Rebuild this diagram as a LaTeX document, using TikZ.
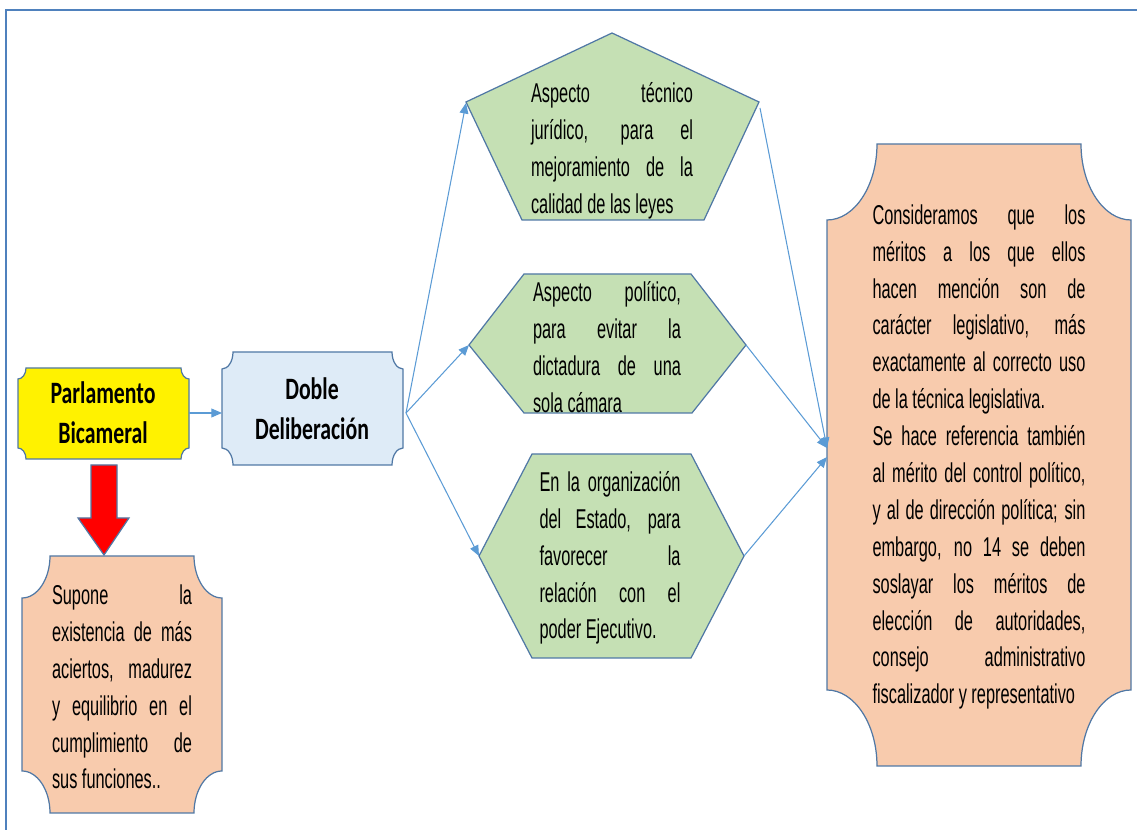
\documentclass[tikz,border=0pt]{standalone}
\usepackage{fontspec}
\usetikzlibrary{arrows.meta}
\newfontfamily\bodyfont{Liberation Sans}[FakeStretch=0.6]
\newfontfamily\headfont{Carlito}[FakeStretch=0.7]
\definecolor{edge}{RGB}{80,120,165}
\definecolor{link}{RGB}{91,155,213}
\definecolor{peach}{RGB}{248,203,173}
\definecolor{leaf}{RGB}{197,224,180}
\definecolor{pale}{RGB}{222,235,247}
\definecolor{frameblue}{RGB}{79,129,189}
\newlength{\jw}
\newcommand{\jl}[1]{\makebox[\jw][s]{#1}}
\newcommand{\plaque}[7]{%
  \draw[#1] (#2,#3+#7)
    .. controls +(0.55*#6,0) and +(0,0.55*#7) .. (#2+#6,#3)
    -- (#4-#6,#3)
    .. controls +(0,0.55*#7) and +(-0.55*#6,0) .. (#4,#3+#7)
    -- (#4,#5-#7)
    .. controls +(-0.55*#6,0) and +(0,-0.55*#7) .. (#4-#6,#5)
    -- (#2+#6,#5)
    .. controls +(0,-0.55*#7) and +(0.55*#6,0) .. (#2,#5-#7)
    -- cycle;}
\tikzset{
  outline/.style={draw=edge, line width=0.7pt},
  conn/.style={draw=link, line width=0.6pt, -{Triangle[length=6pt,width=5pt]}},
  txt/.style={font=\bodyfont\fontsize{15.5}{21}\selectfont, align=left, inner sep=0pt},
  ttl/.style={font=\headfont\bfseries\fontsize{17.7}{23}\selectfont, align=center, inner sep=0pt},
  jw/.code={\setlength{\jw}{#1}}
}
\begin{document}
\begin{tikzpicture}[x=0.02cm, y=-0.02cm]
  \useasboundingbox (0,0) rectangle (1137,830);
  \draw[frameblue, line width=0.8pt] (6,830) -- (6,10) -- (1137,10);

  \plaque{outline, fill=yellow}{18}{368}{189}{459}{8}{11}
  \plaque{outline, fill=pale}{222}{352}{403}{465}{11}{17}
  \plaque{outline, fill=peach}{22}{556}{222}{813}{28}{42}
  \plaque{outline, fill=peach}{827}{144}{1131}{766}{50}{76}

  \draw[outline, fill=leaf] (612,33) -- (759,102) -- (704,220) -- (522,220) -- (466,102) -- cycle;
  \draw[outline, fill=leaf] (524,274) -- (691,274) -- (746,345) -- (692,413) -- (524,413) -- (469,345) -- cycle;
  \draw[outline, fill=leaf] (532,454) -- (691,454) -- (744,556) -- (691,658) -- (532,658) -- (479,556) -- cycle;

  \draw[outline, fill=red] (91,465) -- (117,465) -- (117,518) -- (129,518) -- (104,555)
    -- (78,518) -- (91,518) -- cycle;

  \node[ttl] (parl) at (103,413) {Parlamento\\Bicameral};
  \node[ttl] (doble) at (312,409) {Doble\\Deliberación};

  \node[txt, jw=3.24cm] (tecnico) at (612,151) {%
    \jl{Aspecto técnico}\\ \jl{jurídico, para el}\\ \jl{mejoramiento de la}\\ calidad de las leyes};
  \node[txt, jw=2.96cm] (politico) at (607,347) {%
    \jl{Aspecto político,}\\ \jl{para evitar la}\\ \jl{dictadura de una}\\ sola cámara};
  \node[txt, jw=2.82cm] (estado) at (610,558) {%
    \jl{En la organización}\\ \jl{del Estado, para}\\ \jl{favorecer la}\\ \jl{relación con el}\\ poder Ejecutivo.};
  \node[txt, jw=2.8cm] (supone) at (122,687) {%
    \jl{Supone la}\\ \jl{existencia de más}\\ \jl{aciertos, madurez}\\ \jl{y equilibrio en el}\\ \jl{cumplimiento de}\\ sus funciones..};
  \node[txt, jw=4.26cm] (meritos) at (979,457) {%
    \jl{Consideramos que los}\\ \jl{méritos a los que ellos}\\ \jl{hacen mención son de}\\
    \jl{carácter legislativo, más}\\ \jl{exactamente al correcto uso}\\ de la técnica legislativa.\\
    \jl{Se hace referencia también}\\ \jl{al mérito del control político,}\\
    \jl{y al de dirección política; sin}\\ \jl{embargo, no 14 se deben}\\ \jl{soslayar los méritos de}\\
    \jl{elección de autoridades,}\\ \jl{consejo administrativo}\\ fiscalizador y representativo};

  \coordinate (parl-e) at (189,413);
  \coordinate (doble-w) at (222,413);
  \coordinate (doble-e) at (406,413);
  \coordinate (tecnico-w) at (466,103);
  \coordinate (tecnico-e) at (760,108);
  \coordinate (politico-w) at (469,345);
  \coordinate (politico-e) at (746,345);
  \coordinate (estado-w) at (479,556);
  \coordinate (estado-e) at (744,556);
  \coordinate (meritos-w) at (827,448);
  \coordinate (meritos-w2) at (827,457);

  \draw[conn] (parl-e) -- (doble-w);
  \draw[conn] (doble-e) -- (tecnico-w);
  \draw[conn] (doble-e) -- (politico-w);
  \draw[conn] (doble-e) -- (estado-w);
  \draw[conn] (tecnico-e) -- (meritos-w);
  \draw[conn] (politico-e) -- (meritos-w);
  \draw[conn] (estado-e) -- (meritos-w2);
\end{tikzpicture}
\end{document}
